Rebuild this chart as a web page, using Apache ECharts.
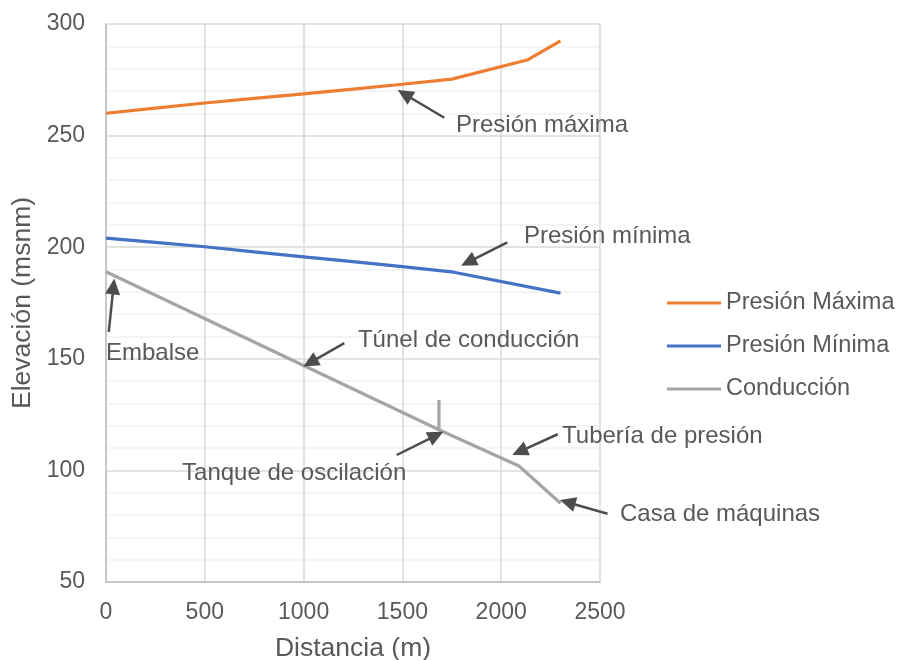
<!DOCTYPE html>
<html>
<head>
<meta charset="utf-8">
<script src="https://cdn.jsdelivr.net/npm/echarts@6/dist/echarts.min.js"></script>
<style>
  html, body { margin: 0; padding: 0; background: #ffffff; }
  #chart { width: 898px; height: 660px; }
</style>
</head>
<body>
<div id="chart"></div>
<script>
// Perfil hidráulico: distancia (m) vs. elevación (msnm)
const seriesNames = ['Presión Máxima', 'Presión Mínima', 'Conducción'];
const presionMaxima = [[0, 260], [250, 262.3], [500, 264.6], [750, 266.7], [1000, 268.7], [1250, 270.8], [1500, 273], [1750, 275.3], [2136, 284], [2300, 292.4]];
const presionMinima = [[0, 204.1], [250, 202.2], [500, 200.2], [750, 197.9], [1000, 195.7], [1250, 193.5], [1500, 191.3], [1760, 188.8], [2300, 179.4]];
const conduccion = [[0, 189], [1685, 118.2], [1685, 131.5], [1685, 118.2], [2090, 102], [2300, 85.3]];

// Anotaciones: texto, ancla del texto, cola y punta de la flecha (en unidades de los ejes)
const annotText = ['Presión máxima', 'Presión mínima', 'Embalse', 'Túnel de conducción', 'Tanque de oscilación', 'Tubería de presión', 'Casa de máquinas'];
const annotAnchor = [[1771, 254.7], [2115, 205], [0, 152.6], [1275, 158.4], [385, 98.8], [2308, 115.4], [2601, 80.5]];
const arrowTail = [[1712, 258], [2031, 202.2], [14, 162.1], [1206, 157], [1471, 106.9], [2286, 116.2], [2538, 80.6]];
const arrowHead = [[1476, 270.4], [1797, 191.7], [42, 186], [998, 146.5], [1707, 117.3], [2056, 106.9], [2297, 86.7]];

const colors = ['#ED7D31', '#4472C4', '#A5A5A5'];
const textColor = '#595959';
const fontFamily = '"Liberation Sans", Arial, sans-serif';

const chart = echarts.init(document.getElementById('chart'));

chart.setOption({
  animation: false,
  backgroundColor: '#ffffff',
  textStyle: { fontFamily: fontFamily },
  grid: { left: 106, right: 298, top: 24, bottom: 78, containLabel: false, outerBoundsMode: 'none' },
  legend: {
    orient: 'vertical',
    left: 667,
    top: 291,
    padding: 0,
    icon: 'rect',
    itemWidth: 54,
    itemHeight: 3,
    itemGap: 19,
    data: seriesNames,
    textStyle: { color: textColor, fontSize: 23.5, fontFamily: fontFamily }
  },
  xAxis: {
    type: 'value',
    min: 0,
    max: 2500,
    interval: 500,
    name: 'Distancia (m)',
    nameLocation: 'middle',
    nameGap: 53,
    nameTextStyle: { color: textColor, fontSize: 26.5, fontFamily: fontFamily },
    axisLine: { show: true, lineStyle: { color: '#BFBFBF', width: 1.5 } },
    axisTick: { show: false },
    axisLabel: { color: textColor, fontSize: 23, margin: 19, fontFamily: fontFamily, formatter: function (v) { return String(v); } },
    splitLine: { show: true, lineStyle: { color: '#D9D9D9', width: 1.5 } }
  },
  yAxis: {
    type: 'value',
    min: 50,
    max: 300,
    interval: 50,
    name: 'Elevación (msnm)',
    nameLocation: 'middle',
    nameGap: 66,
    nameTextStyle: { color: textColor, fontSize: 26.5, fontFamily: fontFamily },
    axisLine: { show: true, lineStyle: { color: '#BFBFBF', width: 1.5 } },
    axisTick: { show: false },
    axisLabel: { color: textColor, fontSize: 23, margin: 21, fontFamily: fontFamily },
    splitLine: { show: true, lineStyle: { color: '#D9D9D9', width: 1.5 } },
    minorTick: { show: false, splitNumber: 5 },
    minorSplitLine: { show: true, lineStyle: { color: '#F2F2F2', width: 1.5 } }
  },
  series: [
    { name: seriesNames[0], type: 'line', data: presionMaxima, showSymbol: false, symbol: 'none', lineStyle: { color: colors[0], width: 3.2 }, itemStyle: { color: colors[0] } },
    { name: seriesNames[1], type: 'line', data: presionMinima, showSymbol: false, symbol: 'none', lineStyle: { color: colors[1], width: 3.2 }, itemStyle: { color: colors[1] } },
    { name: seriesNames[2], type: 'line', data: conduccion, showSymbol: false, symbol: 'none', lineStyle: { color: colors[2], width: 3.2 }, itemStyle: { color: colors[2] } }
  ]
});

// Flechas y textos de anotación, ubicados con las escalas de los ejes
function buildAnnotations() {
  const arrowColor = '#4D4D4D';
  const headLen = 16, headHalf = 7.5;
  const elements = [];
  for (let i = 0; i < annotText.length; i++) {
    const t = chart.convertToPixel({ gridIndex: 0 }, arrowTail[i]);
    const h = chart.convertToPixel({ gridIndex: 0 }, arrowHead[i]);
    const dx = h[0] - t[0], dy = h[1] - t[1];
    const len = Math.sqrt(dx * dx + dy * dy);
    const ux = dx / len, uy = dy / len;
    const bx = h[0] - ux * headLen, by = h[1] - uy * headLen;
    elements.push({
      type: 'line', z: 100,
      shape: { x1: t[0], y1: t[1], x2: bx + ux * 2, y2: by + uy * 2 },
      style: { stroke: arrowColor, lineWidth: 2.5 }
    });
    elements.push({
      type: 'polygon', z: 100,
      shape: { points: [[h[0], h[1]], [bx - uy * headHalf, by + ux * headHalf], [bx + uy * headHalf, by - ux * headHalf]] },
      style: { fill: arrowColor }
    });
    const a = chart.convertToPixel({ gridIndex: 0 }, annotAnchor[i]);
    elements.push({
      type: 'text', z: 100,
      x: a[0], y: a[1],
      style: { text: annotText[i], fill: textColor, font: '24px ' + fontFamily, textAlign: 'left', textVerticalAlign: 'middle' }
    });
  }
  chart.setOption({ graphic: elements });
}
buildAnnotations();
</script>
</body>
</html>
